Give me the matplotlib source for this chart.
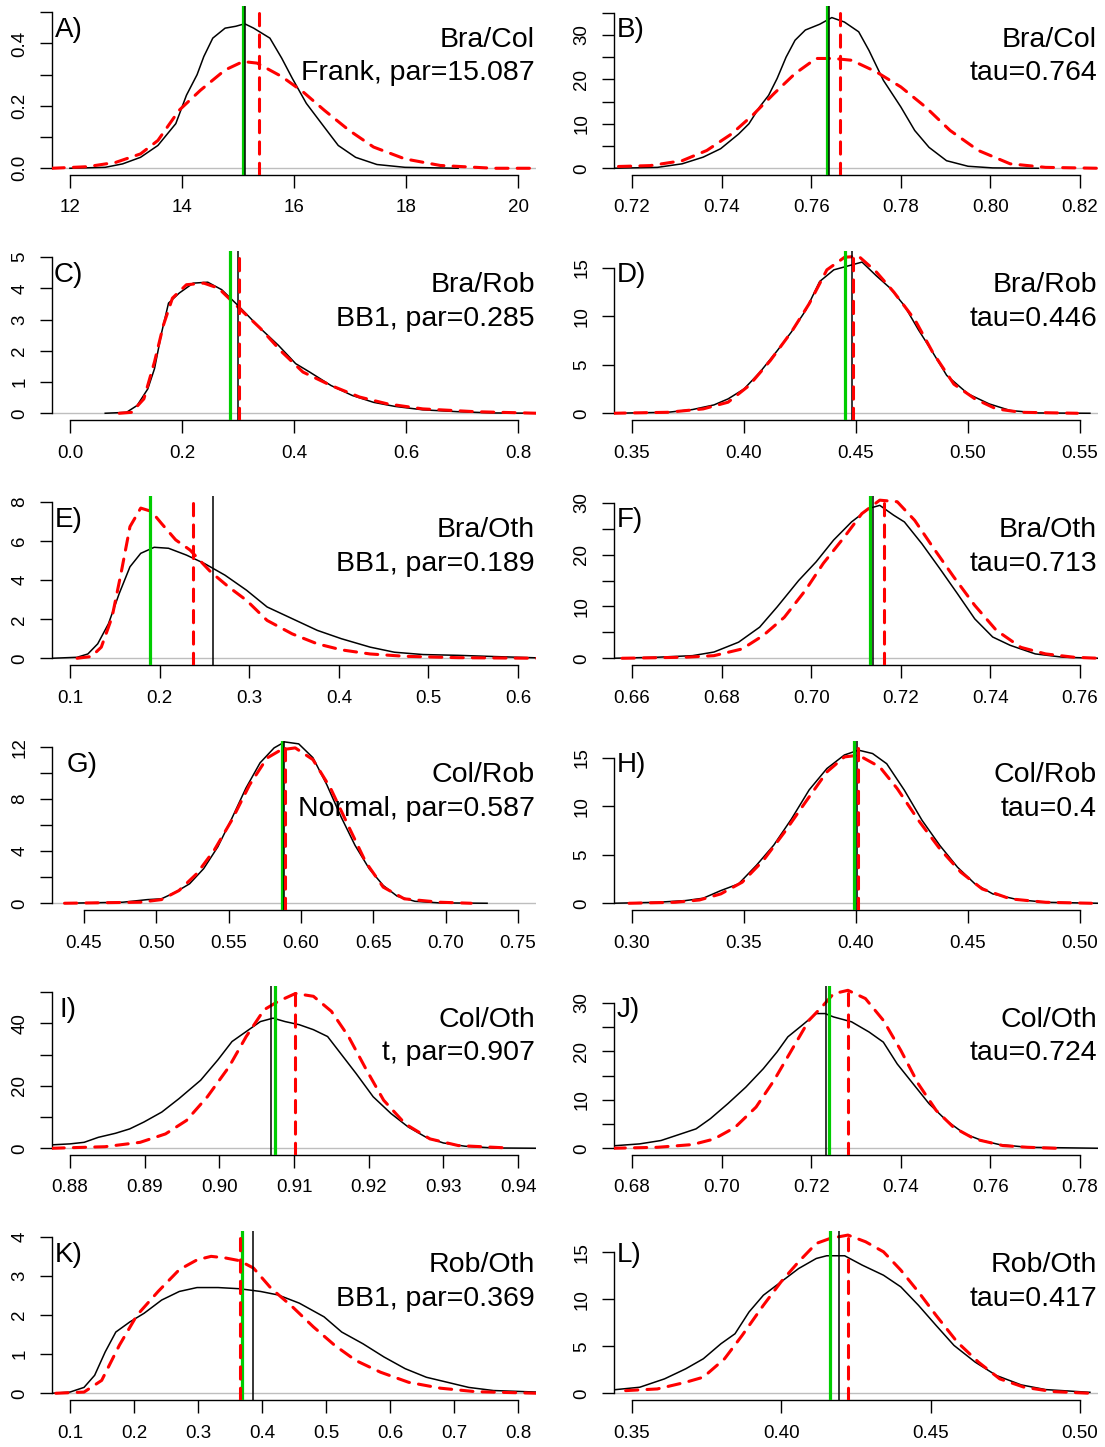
import numpy as np
import matplotlib
matplotlib.use('Agg')
from matplotlib import pyplot as plt

plt.rcParams['font.family'] = ['Liberation Sans', 'DejaVu Sans']


# Densities: emp = black solid, fit = red dashed.
# Vertical lines are (green, black, red).

# A) Bra/Col, Frank
a_emp_x = [12.0, 12.63, 12.94, 13.26, 13.57, 13.89, 14.08, 14.27, 14.39, 14.55, 14.77, 14.96, 15.12, 15.28,
           15.57, 15.78, 15.97, 16.22, 16.54, 16.79, 17.10, 17.48, 17.98, 18.93]
a_emp_y = [0.0, 0.003, 0.014, 0.035, 0.073, 0.143, 0.234, 0.300, 0.358, 0.417, 0.449, 0.455, 0.463, 0.449,
           0.417, 0.353, 0.288, 0.208, 0.132, 0.073, 0.035, 0.012, 0.003, 0.0]
a_fit_x = [11.68, 12.31, 12.82, 13.26, 13.57, 13.95, 14.33, 14.77, 15.09, 15.34, 15.78, 16.16, 16.54, 16.98,
           17.42, 17.98, 18.61, 19.56, 20.35]
a_fit_y = [0.0, 0.005, 0.019, 0.046, 0.089, 0.186, 0.25, 0.315, 0.342, 0.337, 0.294, 0.245, 0.186, 0.122,
           0.068, 0.03, 0.009, 0.0, 0.0]
a_vlines = [15.087, 15.13, 15.37]

# B) Bra/Col, tau
b_emp_x = [0.7158, 0.7257, 0.7312, 0.7359, 0.7398, 0.7438, 0.7461, 0.7485, 0.7505, 0.7524, 0.7544, 0.7564,
           0.7587, 0.7619, 0.7646, 0.7674, 0.7706, 0.7729, 0.7761, 0.7800, 0.7831, 0.7863, 0.7902, 0.7950,
           0.8005, 0.8107]
b_emp_y = [0, 0.2, 1.0, 2.5, 4.4, 7.7, 10.0, 13.8, 16.4, 20.2, 25.0, 28.8, 31.1, 32.4, 33.9, 32.9, 30.7,
           26.5, 19.8, 13.8, 8.5, 4.7, 1.7, 0.45, 0.08, 0]
b_fit_x = [0.7170, 0.7241, 0.7312, 0.7367, 0.7422, 0.7469, 0.7517, 0.7564, 0.7611, 0.7650, 0.7690, 0.7745,
           0.7800, 0.7855, 0.7910, 0.7973, 0.8044, 0.8123, 0.8241]
b_fit_y = [0.4, 0.6, 1.7, 4.0, 7.7, 11.9, 16.8, 21.3, 24.7, 24.7, 24.3, 21.7, 18.3, 13.8, 8.5, 4.0, 1.0,
           0.2, 0]
b_vlines = [0.7635, 0.7639, 0.7665]

# C) Bra/Rob, BB1
c_emp_x = [0.063, 0.101, 0.120, 0.139, 0.151, 0.164, 0.176, 0.195, 0.220, 0.246, 0.271, 0.302, 0.340,
           0.372, 0.403, 0.428, 0.466, 0.504, 0.542, 0.580, 0.630, 0.693, 0.756, 0.835]
c_emp_y = [0, 0.03, 0.25, 0.78, 1.43, 2.61, 3.53, 3.85, 4.17, 4.20, 3.96, 3.42, 2.72, 2.18, 1.59, 1.32,
           0.89, 0.57, 0.35, 0.22, 0.11, 0.05, 0.01, 0]
c_fit_x = [0.088, 0.110, 0.132, 0.151, 0.167, 0.183, 0.208, 0.239, 0.265, 0.302, 0.340, 0.378, 0.416,
           0.466, 0.517, 0.567, 0.630, 0.724, 0.835]
c_fit_y = [0, 0.03, 0.46, 1.65, 2.83, 3.69, 4.12, 4.17, 4.01, 3.37, 2.72, 1.97, 1.32, 0.89, 0.52, 0.30,
           0.14, 0.05, 0]
c_vlines = [0.285, 0.300, 0.302]

# D) Bra/Rob, tau
d_emp_x = [0.3416, 0.366, 0.377, 0.3866, 0.3929, 0.400, 0.407, 0.415, 0.4212, 0.4275, 0.4338, 0.4401,
           0.4464, 0.4527, 0.459, 0.4653, 0.4716, 0.4779, 0.4842, 0.4905, 0.500, 0.5094, 0.5189, 0.5315,
           0.5544]
d_emp_y = [0, 0.1, 0.38, 0.86, 1.48, 2.5, 4.2, 6.5, 8.4, 10.6, 13.6, 14.8, 15.2, 15.6, 14.2, 12.9, 11.1,
           8.6, 6.3, 3.9, 2.0, 0.97, 0.28, 0.03, 0]
d_fit_x = [0.3416, 0.366, 0.3818, 0.3929, 0.4023, 0.4118, 0.4212, 0.4291, 0.437, 0.4449, 0.4512, 0.459,
           0.4669, 0.4764, 0.4842, 0.4937, 0.5031, 0.5126, 0.5236, 0.5488]
d_fit_y = [0, 0.1, 0.45, 1.14, 2.86, 5.45, 8.4, 11.3, 14.8, 16.1, 16.2, 14.6, 12.5, 9.6, 6.3, 3.0, 1.48,
           0.45, 0.1, 0]
d_vlines = [0.4453, 0.4482, 0.4486]

# E) Bra/Oth, BB1
e_emp_x = [0.080, 0.108, 0.120, 0.131, 0.143, 0.155, 0.167, 0.179, 0.194, 0.210, 0.230, 0.250, 0.273,
           0.297, 0.320, 0.348, 0.376, 0.403, 0.435, 0.462, 0.494, 0.533, 0.572, 0.622]
e_emp_y = [0, 0.05, 0.22, 0.74, 1.77, 3.32, 4.69, 5.38, 5.69, 5.64, 5.29, 4.86, 4.26, 3.49, 2.63, 2.03,
           1.43, 1.0, 0.57, 0.31, 0.19, 0.15, 0.09, 0.02]
e_fit_x = [0.108, 0.124, 0.135, 0.147, 0.157, 0.167, 0.179, 0.191, 0.202, 0.218, 0.234, 0.257, 0.277,
           0.297, 0.320, 0.348, 0.376, 0.403, 0.435, 0.474, 0.533, 0.622]
e_fit_y = [0, 0.09, 0.57, 2.11, 4.35, 6.75, 7.7, 7.53, 6.92, 6.07, 5.55, 4.43, 3.66, 2.97, 1.94, 1.25,
           0.74, 0.43, 0.22, 0.1, 0.03, 0]
e_vlines = [0.189, 0.2594, 0.2378]

# F) Bra/Oth, tau
f_emp_x = [0.6558, 0.6657, 0.6735, 0.6783, 0.6838, 0.6885, 0.6924, 0.6972, 0.7011, 0.705, 0.709, 0.7129,
           0.7153, 0.7184, 0.7208, 0.7247, 0.7287, 0.7326, 0.7365, 0.7405, 0.7444, 0.75, 0.7562, 0.7641]
f_emp_y = [0, 0.2, 0.5, 1.2, 3.1, 6.0, 9.9, 15.0, 18.6, 22.8, 26.3, 28.9, 29.5, 27.6, 26.3, 22.1, 17.3,
           12.5, 7.6, 4.1, 2.5, 0.84, 0.2, 0]
f_fit_x = [0.6578, 0.672, 0.6783, 0.6846, 0.6893, 0.694, 0.6987, 0.7027, 0.7074, 0.7113, 0.7153, 0.7192,
           0.7231, 0.7271, 0.7318, 0.7365, 0.7413, 0.7468, 0.7523, 0.7586, 0.7641]
f_fit_y = [0, 0.2, 0.5, 1.8, 4.4, 7.9, 13.1, 18.3, 23.4, 27.9, 30.5, 30.2, 26.6, 21.5, 15.7, 10.2, 5.4,
           2.1, 0.84, 0.2, 0]
f_vlines = [0.7131, 0.7139, 0.7162]

# G) Col/Rob, Normal
g_emp_x = [0.4366, 0.4768, 0.4938, 0.5035, 0.5133, 0.523, 0.5327, 0.5425, 0.5522, 0.5619, 0.5717, 0.5814,
           0.5887, 0.5984, 0.6082, 0.6179, 0.6276, 0.6373, 0.6471, 0.6568, 0.6665, 0.6787, 0.6957, 0.7286]
g_emp_y = [0, 0.08, 0.28, 0.34, 0.85, 1.5, 2.66, 4.34, 6.53, 8.85, 10.8, 11.95, 12.41, 12.26, 11.2, 9.1,
           6.66, 4.46, 2.66, 1.37, 0.54, 0.15, 0.03, 0]
g_fit_x = [0.4366, 0.4889, 0.5035, 0.5157, 0.5279, 0.54, 0.5522, 0.5644, 0.5765, 0.5862, 0.596, 0.6082,
           0.6204, 0.6325, 0.6447, 0.6568, 0.6714, 0.6957, 0.7176]
g_fit_y = [0, 0.08, 0.28, 0.98, 2.27, 4.08, 6.4, 9.1, 11.17, 11.8, 11.95, 11.05, 8.85, 6.0, 3.17, 1.24,
           0.34, 0.08, 0]
g_vlines = [0.587, 0.588, 0.5887]

# H) Col/Rob, tau
h_emp_x = [0.2916, 0.3113, 0.324, 0.3318, 0.3397, 0.3476, 0.3555, 0.3633, 0.3712, 0.3791, 0.387, 0.3948,
           0.4011, 0.4074, 0.4137, 0.4216, 0.4295, 0.4374, 0.4453, 0.4531, 0.461, 0.472, 0.4847, 0.5083]
h_emp_y = [0, 0.1, 0.28, 0.52, 1.31, 2.0, 3.9, 6.0, 8.7, 11.7, 13.9, 15.3, 15.8, 15.45, 14.4, 11.66, 8.55,
           5.97, 3.72, 2.0, 0.97, 0.38, 0.1, 0]
h_fit_x = [0.2987, 0.3192, 0.3302, 0.3397, 0.3492, 0.3586, 0.3681, 0.3775, 0.387, 0.3948, 0.4011, 0.4106,
           0.4184, 0.4279, 0.4374, 0.4468, 0.4563, 0.4689, 0.4847, 0.5051]
h_fit_y = [0, 0.1, 0.34, 0.97, 2.17, 4.41, 7.34, 10.45, 13.55, 15.1, 15.28, 14.07, 11.83, 8.55, 5.62, 3.2,
           1.48, 0.45, 0.1, 0]
h_vlines = [0.3993, 0.4005, 0.4008]

# I) Col/Oth, t
i_emp_x = [0.8776, 0.88, 0.8819, 0.8838, 0.8861, 0.888, 0.8899, 0.8923, 0.8946, 0.8975, 0.8998, 0.9017,
           0.9036, 0.9055, 0.9072, 0.9088, 0.9107, 0.9126, 0.9145, 0.9164, 0.9183, 0.9206, 0.923, 0.9253,
           0.9277, 0.93, 0.9329, 0.9367, 0.9426]
i_emp_y = [1.1, 1.4, 1.9, 3.5, 4.8, 6.2, 8.4, 11.6, 15.9, 21.8, 28.3, 34.2, 37.4, 40.6, 41.7, 40.6, 39.6,
           38.0, 35.8, 29.9, 24.0, 16.5, 11.1, 6.8, 3.5, 1.7, 0.65, 0.1, 0]
i_fit_x = [0.8776, 0.8847, 0.8894, 0.8928, 0.8956, 0.8984, 0.9013, 0.9036, 0.906, 0.9079, 0.9102, 0.9126,
           0.915, 0.9173, 0.9197, 0.922, 0.9249, 0.9282, 0.932, 0.9386]
i_fit_y = [0, 0.5, 1.9, 4.6, 8.9, 16.5, 26.1, 35.8, 44.4, 47.1, 49.6, 48.7, 43.9, 35.8, 25.1, 15.4, 7.8,
           3.0, 0.86, 0.1]
i_vlines = [0.9075, 0.9069, 0.9101]

# J) Col/Oth, tau
j_emp_x = [0.6758, 0.6817, 0.6865, 0.6904, 0.6943, 0.6975, 0.7014, 0.7054, 0.7093, 0.7124, 0.7148, 0.718,
           0.7211, 0.7231, 0.725, 0.729, 0.7329, 0.7361, 0.7392, 0.7424, 0.7463, 0.7502, 0.7542, 0.7581,
           0.762, 0.7683, 0.7841]
j_emp_y = [0.5, 0.9, 1.6, 2.8, 4.0, 6.1, 9.2, 12.6, 16.4, 19.9, 23.0, 25.4, 27.8, 27.8, 27.1, 26.1, 24.0,
           21.9, 17.4, 13.7, 9.2, 5.7, 3.0, 1.6, 0.76, 0.2, 0]
j_fit_x = [0.6758, 0.6857, 0.6935, 0.6983, 0.703, 0.7077, 0.7117, 0.7156, 0.7195, 0.7227, 0.725, 0.7282,
           0.7321, 0.7361, 0.74, 0.7439, 0.7479, 0.7518, 0.7565, 0.7628, 0.7683, 0.7746]
j_fit_y = [0, 0.2, 0.76, 1.9, 4.3, 8.5, 14.0, 20.2, 26.4, 29.5, 31.9, 32.6, 30.9, 26.4, 20.2, 13.3, 7.8,
           4.3, 1.9, 0.55, 0.2, 0]
j_vlines = [0.7239, 0.7233, 0.7283]

# K) Rob/Oth, BB1
k_emp_x = [0.0724, 0.1, 0.122, 0.1386, 0.1551, 0.1717, 0.1937, 0.2158, 0.2433, 0.2709, 0.2985, 0.3315,
           0.3646, 0.3977, 0.4252, 0.4583, 0.4969, 0.5245, 0.5576, 0.5906, 0.6237, 0.6568, 0.6899, 0.7229,
           0.7615, 0.8304]
k_emp_y = [0, 0.03, 0.15, 0.46, 1.06, 1.57, 1.83, 2.05, 2.39, 2.61, 2.71, 2.71, 2.68, 2.61, 2.52, 2.31,
           1.96, 1.57, 1.27, 0.93, 0.63, 0.41, 0.28, 0.15, 0.07, 0.03]
k_fit_x = [0.078, 0.122, 0.1496, 0.1772, 0.2047, 0.2378, 0.2709, 0.2985, 0.3205, 0.3426, 0.3646, 0.3867,
           0.4142, 0.4473, 0.4804, 0.5135, 0.5465, 0.5851, 0.6292, 0.6788, 0.734, 0.8304]
k_fit_y = [0, 0.03, 0.33, 1.23, 2.0, 2.61, 3.17, 3.42, 3.51, 3.47, 3.4, 3.21, 2.69, 2.22, 1.70, 1.23, 0.84,
           0.54, 0.28, 0.13, 0.04, 0]
k_vlines = [0.369, 0.3867, 0.3663]

# L) Rob/Oth, tau
l_emp_x = [0.3437, 0.3526, 0.3609, 0.368, 0.3739, 0.3798, 0.3845, 0.3892, 0.394, 0.3999, 0.4058, 0.4117,
           0.4152, 0.4212, 0.4271, 0.4342, 0.44, 0.4459, 0.4518, 0.4578, 0.4649, 0.472, 0.4803, 0.4885,
           0.5033]
l_emp_y = [0.36, 0.64, 1.53, 2.6, 3.67, 5.27, 6.33, 8.65, 10.43, 11.85, 13.27, 14.34, 14.63, 14.63, 13.63,
           12.56, 11.32, 9.36, 7.22, 5.09, 3.31, 1.89, 0.89, 0.39, 0.1]
l_fit_x = [0.3479, 0.3585, 0.368, 0.3739, 0.381, 0.3869, 0.394, 0.3999, 0.4058, 0.4117, 0.4164, 0.4223,
           0.4282, 0.4342, 0.44, 0.4459, 0.4518, 0.4589, 0.466, 0.4731, 0.4813, 0.4908, 0.5033]
l_fit_y = [0.28, 0.46, 1.17, 1.71, 3.67, 6.16, 9.36, 11.85, 13.99, 15.94, 16.48, 16.83, 16.12, 15.05, 13.1,
           10.78, 8.29, 5.44, 3.31, 1.53, 0.64, 0.18, 0]
l_vlines = [0.4164, 0.4192, 0.4223]

letters = ['A)', 'B)', 'C)', 'D)', 'E)', 'F)', 'G)', 'H)', 'I)', 'J)', 'K)', 'L)']
pairs = ['Bra/Col', 'Bra/Col', 'Bra/Rob', 'Bra/Rob', 'Bra/Oth', 'Bra/Oth',
         'Col/Rob', 'Col/Rob', 'Col/Oth', 'Col/Oth', 'Rob/Oth', 'Rob/Oth']
fits = ['Frank, par=15.087', 'tau=0.764', 'BB1, par=0.285', 'tau=0.446', 'BB1, par=0.189', 'tau=0.713',
        'Normal, par=0.587', 'tau=0.4', 't, par=0.907', 'tau=0.724', 'BB1, par=0.369', 'tau=0.417']

# x data range (before the 4% padding), x ticks (start, stop, step, decimals)
x_ranges = [(12, 20), (0.72, 0.82), (0.0, 0.8), (0.35, 0.55), (0.1, 0.6), (0.66, 0.76),
            (0.4403, 0.75), (0.30, 0.50), (0.88, 0.94), (0.68, 0.78), (0.10, 0.80), (0.35, 0.50)]
x_ticks = [(12, 20, 2, 0), (0.72, 0.82, 0.02, 2), (0.0, 0.8, 0.2, 1), (0.35, 0.55, 0.05, 2),
           (0.1, 0.6, 0.1, 1), (0.66, 0.76, 0.02, 2), (0.45, 0.75, 0.05, 2), (0.30, 0.50, 0.05, 2),
           (0.88, 0.94, 0.01, 2), (0.68, 0.78, 0.02, 2), (0.1, 0.8, 0.1, 1), (0.35, 0.50, 0.05, 2)]
# y top of data range, y ticks (step, top tick, label every n-th, decimals)
y_tops = [0.5, 35.1, 5.0, 16.1, 8.0, 30.1, 12.0, 16.1, 50.0, 32.2, 4.0, 16.6]
y_ticks = [(0.1, 0.5, 2, 1), (5, 35, 2, 0), (1, 5, 1, 0), (5, 15, 1, 0), (2, 8, 1, 0), (5, 30, 2, 0),
           (2, 12, 2, 0), (5, 15, 1, 0), (10, 50, 2, 0), (5, 30, 2, 0), (1, 4, 1, 0), (5, 15, 1, 0)]

emp = [(a_emp_x, a_emp_y), (b_emp_x, b_emp_y), (c_emp_x, c_emp_y), (d_emp_x, d_emp_y),
       (e_emp_x, e_emp_y), (f_emp_x, f_emp_y), (g_emp_x, g_emp_y), (h_emp_x, h_emp_y),
       (i_emp_x, i_emp_y), (j_emp_x, j_emp_y), (k_emp_x, k_emp_y), (l_emp_x, l_emp_y)]
fit = [(a_fit_x, a_fit_y), (b_fit_x, b_fit_y), (c_fit_x, c_fit_y), (d_fit_x, d_fit_y),
       (e_fit_x, e_fit_y), (f_fit_x, f_fit_y), (g_fit_x, g_fit_y), (h_fit_x, h_fit_y),
       (i_fit_x, i_fit_y), (j_fit_x, j_fit_y), (k_fit_x, k_fit_y), (l_fit_x, l_fit_y)]
vlines = [a_vlines, b_vlines, c_vlines, d_vlines, e_vlines, f_vlines,
          g_vlines, h_vlines, i_vlines, j_vlines, k_vlines, l_vlines]


# Layout in pixels (R style mfrow=c(6,2))
W, H = 1105, 1447
col_left = [52, 614]
reg_w = 484
reg_h = 168.5
row_step = 245
letter_dx = [3, 3, 2, 3, 3, 3, 15, 3, 8, 3, 3, 3]

GREEN = '#00CC00'
GREY = '#BEBEBE'

fig = plt.figure(figsize=(W / 100, H / 100), dpi=100)

for k in range(12):
    row, col = k // 2, k % 2
    top = 6 + row_step * row
    ax = fig.add_axes([col_left[col] / W, 1 - (top + reg_h) / H, reg_w / W, reg_h / H])

    a, b = x_ranges[k]
    ax.set_xlim(a - 0.04 * (b - a), b + 0.04 * (b - a))
    Y = y_tops[k]
    ax.set_ylim(-0.04 * Y, 1.04 * Y)

    ax.axhline(0, color=GREY, lw=1.0, zorder=1)
    ax.plot(emp[k][0], emp[k][1], color='black', lw=1.1, zorder=2)
    ax.plot(fit[k][0], fit[k][1], color='red', lw=2.2, dashes=(4, 3), dash_capstyle='round', zorder=3)
    g, bl, r = vlines[k]
    ax.axvline(g, color=GREEN, lw=2.3, zorder=4)
    ax.axvline(bl, color='black', lw=1.1, zorder=5)
    ax.axvline(r, color='red', lw=2.2, dashes=(4, 3), dash_capstyle='round', zorder=6)

    # axes drawn like R: lines only from first to last tick
    x0, x1, xs, xd = x_ticks[k]
    xt = np.round(np.arange(x0, x1 + xs / 2, xs), 6)
    ax.set_xticks(xt)
    ax.set_xticklabels([f'{v:.{xd}f}' for v in xt])
    ys, ymax_t, every, yd = y_ticks[k]
    yt = np.round(np.arange(0, ymax_t + ys / 2, ys), 6)
    ax.set_yticks(yt)
    ax.set_yticklabels([f'{v:.{yd}f}' if i % every == 0 else '' for i, v in enumerate(yt)],
                       rotation=90, va='center')

    for s in ['top', 'right']:
        ax.spines[s].set_visible(False)
    ax.spines['bottom'].set_bounds(xt[0], xt[-1])
    ax.spines['left'].set_bounds(0, yt[-1])
    for s in ['bottom', 'left']:
        ax.spines[s].set_linewidth(1.0)
    ax.tick_params(axis='both', length=9, width=1.0, labelsize=13.5)
    ax.tick_params(axis='x', pad=9)
    ax.tick_params(axis='y', pad=8)

    ax.text(letter_dx[k] / reg_w, 1 - 31 / reg_h, letters[k], transform=ax.transAxes,
            ha='left', va='baseline', fontsize=20)
    ax.text(1 - 1 / reg_w, 1 - 41 / reg_h, pairs[k], transform=ax.transAxes,
            ha='right', va='baseline', fontsize=20.5)
    ax.text(1 - 1 / reg_w, 1 - 74.5 / reg_h, fits[k], transform=ax.transAxes,
            ha='right', va='baseline', fontsize=20.5)

fig.savefig('out.png', dpi=100)
